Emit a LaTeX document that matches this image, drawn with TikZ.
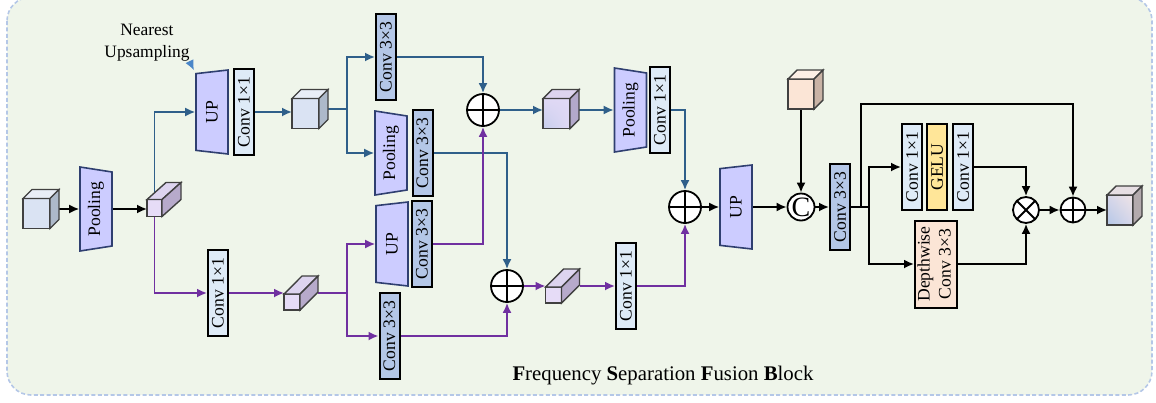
\documentclass[tikz,border=0pt]{standalone}
\usepackage{fontspec}
\setmainfont{Liberation Serif}
\usetikzlibrary{arrows.meta,positioning,calc,shapes.geometric,backgrounds,shadings}

\definecolor{bgfill}{HTML}{EFF5EA}
\definecolor{bgline}{HTML}{B4C7E7}
\definecolor{lav}{HTML}{CCCCFF}
\definecolor{navy}{HTML}{2F3F70}
\definecolor{coneclr}{HTML}{DEEBF7}
\definecolor{cthreeclr}{HTML}{B4C7E7}
\definecolor{geluclr}{HTML}{FFE699}
\definecolor{peachclr}{HTML}{FBE5D6}
\definecolor{hiline}{HTML}{2F5F8A}
\definecolor{loline}{HTML}{7030A0}
\definecolor{noteline}{HTML}{4A86C8}
\definecolor{cubeline}{HTML}{404040}
\definecolor{cubefront}{HTML}{DAE3F3}
\definecolor{cubetop}{HTML}{E9EEF7}
\definecolor{cubeside}{HTML}{ADB9CA}
\definecolor{flatfront}{HTML}{E6DCF7}
\definecolor{flattop}{HTML}{DDD4EF}
\definecolor{flatside}{HTML}{B7AACB}
\definecolor{midfront}{HTML}{E0D9F5}
\definecolor{midblue}{HTML}{C6CDEC}
\definecolor{midside}{HTML}{B3A9CB}
\definecolor{peachtop}{HTML}{FCEFE6}
\definecolor{peachside}{HTML}{C9B3A6}
\definecolor{outblue}{HTML}{B4C7E7}
\definecolor{outpink}{HTML}{EFE4E6}
\definecolor{outmid}{HTML}{D6D6EA}
\definecolor{outtop}{HTML}{E6DEE3}
\definecolor{outside}{HTML}{B3AAAD}

\newcommand{\cubefaces}[6]{%
  \coordinate (#1-ftr) at ($(#1.north east)+(-#2,#3)$);
  \coordinate (#1-f) at ($(#1.south west)!0.5!(#1-ftr)$);
  \path[draw=cubeline,line width=0.7pt,#4] (#1.south west) rectangle (#1-ftr);
  \filldraw[draw=cubeline,line width=0.7pt,fill=#5] ($(#1.north west)+(0,#3)$) -- ($(#1.north west)+(#2,0)$) -- (#1.north east) -- (#1-ftr) -- cycle;
  \filldraw[draw=cubeline,line width=0.7pt,fill=#6] (#1-ftr) -- (#1.north east) -- ($(#1.south east)+(0,-#3)$) -- ($(#1.south east)+(-#2,0)$) -- cycle;
}

\begin{document}
\begin{tikzpicture}[x=0.5pt,y=-0.5pt,>={Latex[length=5pt,width=4.5pt]},font=\fontsize{8.8}{10.5}\selectfont]
  \tikzstyle{conv}=[draw,line width=1pt,minimum width=10pt,minimum height=43pt,inner sep=0pt]
  \tikzstyle{cone}=[conv,fill=coneclr]
  \tikzstyle{cthree}=[conv,fill=cthreeclr]
  \tikzstyle{pool}=[trapezium,draw=navy,line width=0.8pt,fill=lav,rotate=90,trapezium left angle=104,trapezium right angle=104,trapezium stretches body,minimum width=42pt,minimum height=16pt,inner sep=1pt]
  \tikzstyle{upbox}=[pool,trapezium left angle=77,trapezium right angle=77]
  \tikzstyle{cubebox}=[minimum width=18pt,minimum height=19.5pt,inner sep=0pt,outer sep=0pt]
  \tikzstyle{flatbox}=[cubebox,minimum width=17pt,minimum height=17pt]
  \tikzstyle{opnode}=[circle,draw,line width=0.9pt,fill=white,minimum size=16pt,inner sep=0pt]
  \tikzstyle{addop}=[opnode,path picture={\draw[line width=0.9pt] (path picture bounding box.north) -- (path picture bounding box.south) (path picture bounding box.west) -- (path picture bounding box.east);}]
  \tikzstyle{mulop}=[opnode,minimum size=13pt,path picture={\draw[line width=0.9pt] (path picture bounding box.north west) -- (path picture bounding box.south east) (path picture bounding box.south west) -- (path picture bounding box.north east);}]
  \tikzstyle{catop}=[opnode,minimum size=13.5pt,font=\fontsize{14}{14}\selectfont]
  \tikzstyle{blk}=[black,line width=0.9pt]
  \tikzstyle{hi}=[hiline,line width=0.9pt]
  \tikzstyle{lo}=[loline,line width=0.9pt]

  \useasboundingbox (0,0) rectangle (1156,402);

  \node[cubebox] (in) at (41,209) {};
  \node[pool] (pool1) at (96,209) {Pooling};
  \node[flatbox] (flat1) at (164,199.5) {};
  \node[upbox] (up1) at (212,112) {UP};
  \node[cone] (c1a) at (244,112) {\rotatebox{90}{Conv 1×1}};
  \node[cubebox] (cube1) at (310,109) {};
  \node[cthree] (c3a) at (386,57) {\rotatebox{90}{Conv 3×3}};
  \node[pool] (pool2) at (391,153) {Pooling};
  \node[cthree] (c3b) at (422.5,153) {\rotatebox{90}{Conv 3×3}};
  \node[addop] (add1) at (483,110) {};
  \node[cubebox] (cube2) at (561,109) {};
  \node[pool] (pool3) at (630.5,110) {Pooling};
  \node[cone] (c1b) at (660,110) {\rotatebox{90}{Conv 1×1}};

  \node[cone] (c1e) at (218,293) {\rotatebox{90}{Conv 1×1}};
  \node[flatbox] (flat2) at (301,293) {};
  \node[upbox] (up2) at (392,244) {UP};
  \node[cthree] (c3e) at (422,244) {\rotatebox{90}{Conv 3×3}};
  \node[cthree] (c3d) at (389.5,336) {\rotatebox{90}{Conv 3×3}};
  \node[addop] (add2) at (507,286) {};
  \node[flatbox] (flat3) at (562.5,286) {};
  \node[cone] (c1f) at (626,286) {\rotatebox{90}{Conv 1×1}};

  \node[addop] (add3) at (685,207) {};
  \node[upbox] (up3) at (736,207) {UP};
  \node[catop] (cat) at (801,207) {C};
  \node[cubebox,minimum width=17.5pt] (peach) at (805.5,89.5) {};
  \node[cthree] (c3c) at (840,207) {\rotatebox{90}{Conv 3×3}};
  \node[cone] (c1c) at (912,167) {\rotatebox{90}{Conv 1×1}};
  \node[cone,fill=geluclr] (gelu) at (937,167) {\rotatebox{90}{GELU}};
  \node[cone] (c1d) at (963,167) {\rotatebox{90}{Conv 1×1}};
  \node[conv,fill=peachclr,minimum width=20pt,minimum height=43.5pt] (dw) at (936,264) {\rotatebox{90}{\begin{tabular}{@{}c@{}}Depthwise\\Conv 3×3\end{tabular}}};
  \node[mulop] (mul) at (1026,210) {};
  \node[addop,minimum size=12.5pt] (add4) at (1073,210) {};
  \node[cubebox,minimum width=17.5pt] (out) at (1124.5,205.5) {};

  \node[align=center,inner sep=0pt,font=\fontsize{8.7}{11}\selectfont] (nu) at (147,43) {Nearest\\Upsampling};
  \node (title) at (663,376) {\fontsize{10.4}{12}\selectfont\textbf{F}requency \textbf{S}eparation \textbf{F}usion \textbf{B}lock};

  \cubefaces{in}{9}{9}{fill=cubefront}{cubetop}{cubeside}
  \cubefaces{cube1}{9}{9}{fill=cubefront}{cubetop}{cubeside}
  \cubefaces{cube2}{9}{9}{lower left=midblue,upper right=midfront,upper left=midfront,lower right=midfront}{flattop}{midside}
  \cubefaces{peach}{9}{9}{fill=peachclr}{peachtop}{peachside}
  \cubefaces{out}{9}{9}{lower left=outblue,upper right=outpink,upper left=outmid,lower right=outmid}{outtop}{outside}
  \cubefaces{flat1}{19}{17}{fill=flatfront}{flattop}{flatside}
  \cubefaces{flat2}{18}{18}{fill=flatfront}{flattop}{flatside}
  \cubefaces{flat3}{18}{18}{fill=flatfront}{flattop}{flatside}

  \begin{scope}[on background layer]
    \draw[bgline,line width=0.8pt,dash pattern=on 2pt off 1.2pt,fill=bgfill,rounded corners=12pt] (7,-3) rectangle (1152,395);
    \draw[blk,->] (in) -- (pool1);
    \draw[blk,->] (pool1) -- (pool1 -| flat1.west);
    \draw[hi,->] (flat1-f) |- (up1);
    \draw[lo,->] (flat1-f) |- (c1e);
    \draw[hi,->] (c1a) -- (c1a -| cube1.west);
    \draw[hi,->] (cube1.east) -- ++(19,0) |- (c3a);
    \draw[hi,->] (cube1.east) -- ++(19,0) |- (pool2);
    \draw[hi,->] (c3a) -| (add1);
    \draw[hi,->] (c3b) -| (add2);
    \draw[hi,->] (add1) -- (add1 -| cube2.west);
    \draw[hi,->] (pool3 -| cube2.east) -- (pool3);
    \draw[hi,->] (c1b) -| (add3);
    \draw[lo,->] (c1e) -- (flat2);
    \draw[lo,->] (flat2.east) -- ++(29,0) |- (up2);
    \draw[lo,->] (flat2.east) -- ++(29,0) |- (c3d);
    \draw[lo,->] (c3e) -| (add1);
    \draw[lo,->] (c3d) -| (add2);
    \draw[lo,->] (add2) -- (flat3);
    \draw[lo,->] (flat3) -- (c1f);
    \draw[lo,->] (c1f) -| (add3);
    \draw[blk,->] (add3) -- (up3);
    \draw[blk,->] (up3) -- (cat);
    \draw[blk,->] (peach-f) -- (cat);
    \draw[blk,->] (cat) -- (c3c);
    \draw[blk,->] (c3c.east) -- ++(10,0) -- ++(0,-103) -| (add4);
    \draw[blk,->] (c3c.east) -- ++(18,0) |- (c1c);
    \draw[blk,->] (c3c.east) -- ++(18,0) |- (dw);
    \draw[blk,->] (c1d) -| (mul);
    \draw[blk,->] (dw) -| (mul);
    \draw[blk,->] (mul) -- (add4);
    \draw[blk,->] (add4) -- (add4 -| out.west);
    \draw[noteline,line width=0.6pt,->,shorten >=1.5pt] (nu.south east) -- (up1.top right corner);
  \end{scope}
\end{tikzpicture}
\end{document}
